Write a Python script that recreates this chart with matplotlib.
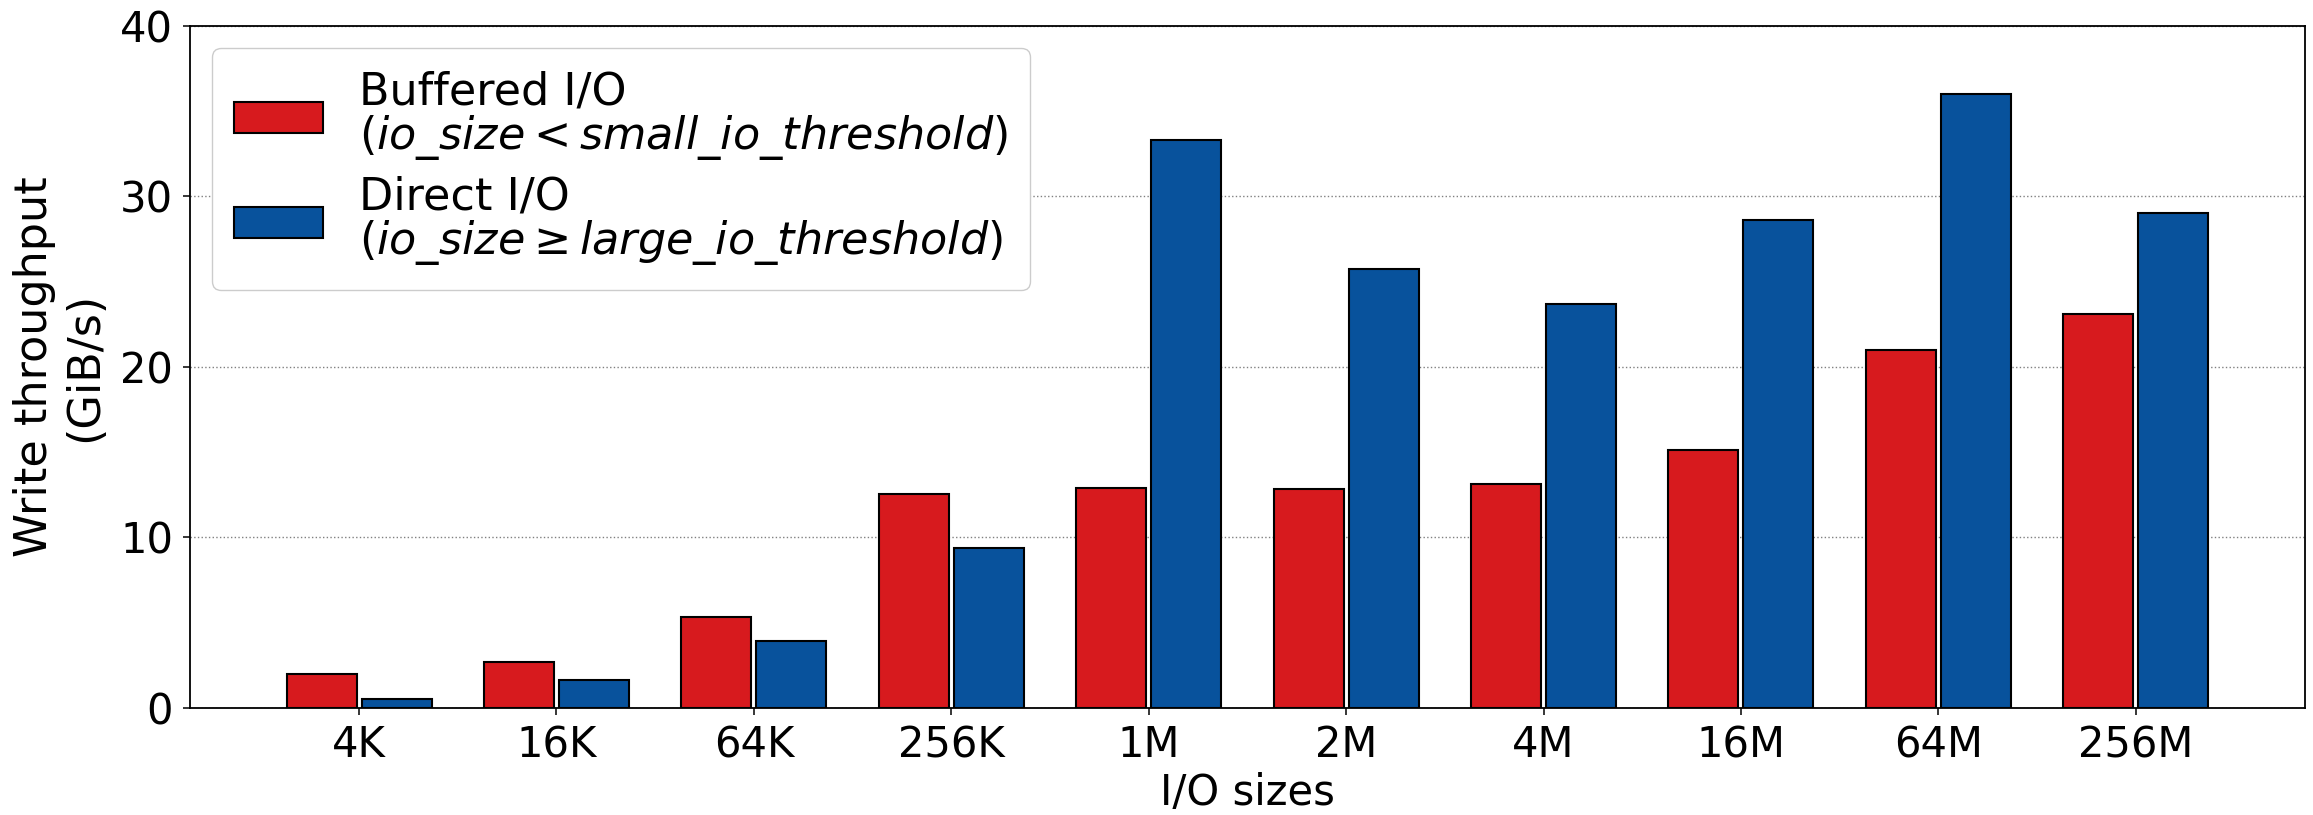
import numpy as np
import matplotlib.pyplot as plt

# I/O sizes and measured write throughput (GiB/s)
io_sizes = ['4K', '16K', '64K', '256K', '1M', '2M', '4M', '16M', '64M', '256M']
buffered = [2.0, 2.7, 5.3, 12.55, 12.9, 12.8, 13.1, 15.1, 21.0, 23.1]
direct = [0.5, 1.6, 3.9, 9.35, 33.3, 25.7, 23.7, 28.6, 36.0, 29.0]

red = '#d71a1e'
blue = '#08529c'

fig = plt.figure(figsize=(23.13, 8.15), dpi=100)
ax = fig.add_axes([0.0821, 0.1317, 0.9144, 0.8368])

x = np.arange(len(io_sizes))
w = 0.355
ax.bar(x - 0.19, buffered, w, color=red, edgecolor='black', linewidth=1.5,
       label='Buffered I/O\n($\\mathit{io\\_size} < \\mathit{small\\_io\\_threshold}$)', zorder=3)
ax.bar(x + 0.19, direct, w, color=blue, edgecolor='black', linewidth=1.5,
       label='Direct I/O\n($\\mathit{io\\_size} \\geq \\mathit{large\\_io\\_threshold}$)', zorder=3)

ax.set_xticks(x)
ax.set_xticklabels(io_sizes)
ax.set_xlim(-0.857, 9.857)
ax.set_ylim(0, 40)
ax.set_yticks([0, 10, 20, 30, 40])
ax.tick_params(labelsize=30, length=5, width=1.1, pad=7)
for s in ax.spines.values():
    s.set_linewidth(1.3)
ax.yaxis.grid(True, linestyle=':', color='gray', linewidth=1, zorder=0)
ax.set_axisbelow(True)

ax.set_xlabel('I/O sizes', fontsize=30)
ax.set_ylabel('Write throughput\n(GiB/s)', fontsize=32, labelpad=10)

leg = ax.legend(loc='upper left', fontsize=32, borderpad=0.5, labelspacing=0.3,
                framealpha=1.0, edgecolor='#cccccc')
for t in leg.get_texts():
    t.set_linespacing(1.0)

fig.savefig('out.png', dpi=100)
